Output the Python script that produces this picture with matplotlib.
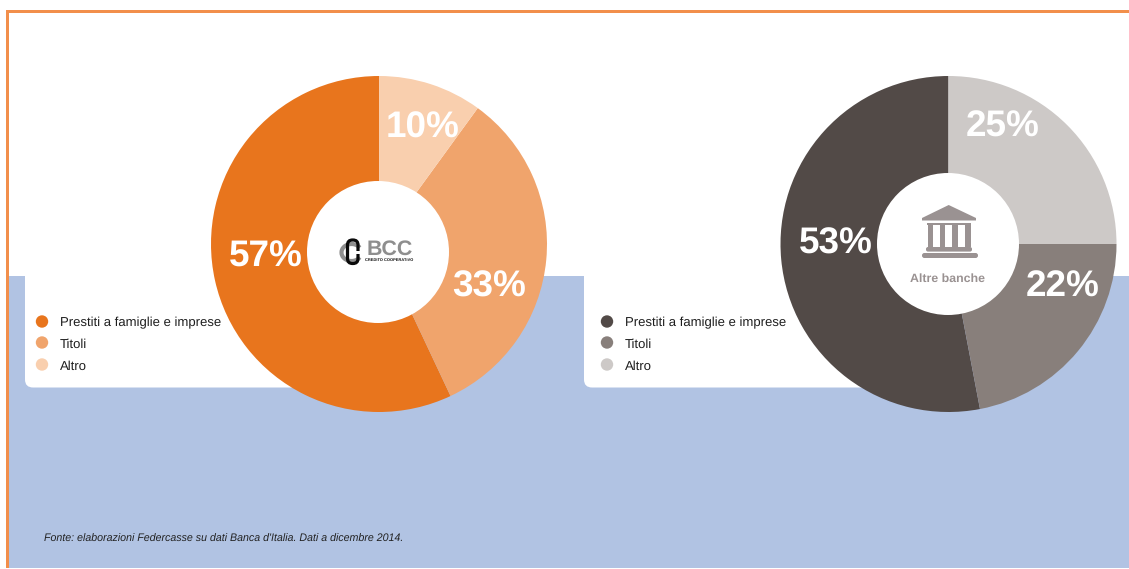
import matplotlib
matplotlib.use("Agg")
import matplotlib.pyplot as plt
from matplotlib.patches import Rectangle, FancyBboxPatch, Polygon, Circle, Arc

plt.rcParams['font.family'] = ['Liberation Sans', 'DejaVu Sans']
plt.rcParams['text.hinting'] = 'no_hinting'

# Composition of assets, percent
categories = ["Prestiti a famiglie e imprese", "Titoli", "Altro"]
bcc_values = [57, 33, 10]
other_values = [53, 22, 25]
bcc_colors = ["#E8751D", "#F0A46C", "#F9CFAE"]
other_colors = ["#524A47", "#887F7B", "#CDC9C7"]
source_note = "Fonte: elaborazioni Federcasse su dati Banca d'Italia. Dati a dicembre 2014."
other_center_label = "Altre banche"
logo_name = "BCC"
logo_tagline = "CREDITO COOPERATIVO"

W, H = 1129, 569
BLUE = "#B1C3E3"
ORANGE = "#F28F4B"
ICON = "#9A9292"

fig = plt.figure(figsize=(W / 100, H / 100), dpi=100, facecolor="white")

# Page layer in pixel coordinates, y pointing down
bg = fig.add_axes([0, 0, 1, 1], zorder=0)
bg.set_xlim(0, W)
bg.set_ylim(H, 0)
bg.axis("off")

bg.add_patch(Rectangle((8, 276), W - 8, 292, fc=BLUE, ec="none"))
for x0 in (25, 584):
    bg.add_patch(FancyBboxPatch((x0, 250), 340, 137.5,
                                boxstyle="round,pad=0,rounding_size=8",
                                fc="white", ec="none"))
bg.add_patch(Rectangle((6, 10), 3, 558, fc=ORANGE, ec="none", zorder=2))
bg.add_patch(Rectangle((6, 10), W - 6, 2.6, fc=ORANGE, ec="none", zorder=2))

# Legends
for x_dot, x_txt, colors in ((42, 60, bcc_colors), (607, 625, other_colors)):
    for y, name, col in zip((322, 343, 365), categories, colors):
        bg.add_patch(Circle((x_dot, y - 0.5), 6.2, fc=col, ec="none"))
        bg.text(x_txt, y + 1.4, name, fontsize=9.45, color="#1E1E1E", va="center", ha="left")

bg.text(44, 539, source_note, fontsize=7.7, style="italic", color="#222222",
        va="center", ha="left")


def solid_pie(cx, cy, radius, values, colors):
    """Pie centred on a pixel position, first slice running anticlockwise from 12 o'clock."""
    ax = fig.add_axes([(cx - radius) / W, 1 - (cy + radius) / H,
                       2 * radius / W, 2 * radius / H], zorder=1)
    ax.pie(values, colors=colors, startangle=90, counterclock=True, radius=1,
           wedgeprops=dict(linewidth=0))
    ax.set_xlim(-1, 1)
    ax.set_ylim(-1, 1)
    ax.set_aspect("equal")
    ax.patch.set_alpha(0)
    return ax


solid_pie(379, 244, 168, bcc_values, bcc_colors)
solid_pie(948.5, 244, 168, other_values, other_colors)

# Overlay for percentage labels and the ring centres
top = fig.add_axes([0, 0, 1, 1], zorder=3)
top.set_xlim(0, W)
top.set_ylim(H, 0)
top.axis("off")
top.patch.set_alpha(0)

top.add_patch(Circle((378, 252), 71, fc="white", ec="none"))
top.add_patch(Circle((948, 244), 71, fc="white", ec="none"))

bcc_label_xy = [(266, 257.5), (489, 287.5), (422.5, 128.5)]
other_label_xy = [(836, 244.5), (1062.5, 287.5), (1003, 127.5)]
for values, spots in ((bcc_values, bcc_label_xy), (other_values, other_label_xy)):
    for v, (x, y) in zip(values, spots):
        top.text(x, y, f"{v}%", fontsize=26.6, fontweight="bold", color="white",
                 ha="center", va="center")

# Bank icon
top.add_patch(Polygon([(948.7, 205), (976, 218), (976, 220.5), (922, 220.5), (922, 218)],
                      closed=True, fc=ICON, ec="none"))
top.add_patch(Rectangle((927, 222.5), 44, 2.3, fc=ICON, ec="none"))
for x0 in (927.5, 939.5, 952, 965):
    top.add_patch(Rectangle((x0, 224), 5.8, 23, fc=ICON, ec="none"))
top.add_patch(FancyBboxPatch((926, 247), 46, 4.6, boxstyle="round,pad=0,rounding_size=2",
                             fc=ICON, ec="none"))
top.add_patch(FancyBboxPatch((922, 253), 56, 5, boxstyle="round,pad=0,rounding_size=2.4",
                             fc=ICON, ec="none"))
top.text(948, 278.5, other_center_label, fontsize=8.95, fontweight="bold", color=ICON,
         ha="center", va="center")

# Cooperative credit logo
top.add_patch(Arc((351.5, 252.5), 20, 17, theta1=30, theta2=330, lw=3, color="#8E8E8E"))
top.add_patch(FancyBboxPatch((347.5, 240), 10.5, 23.5, boxstyle="round,pad=0,rounding_size=5",
                             fc="none", ec="#0A0A0A", lw=2.3))
top.add_patch(Rectangle((355, 250.5), 6, 3, fc="white", ec="none"))
top.text(389.5, 249.5, logo_name, fontsize=15.4, fontweight="bold", color="#8E8E8E",
         ha="center", va="center")
top.text(389.5, 259.8, logo_tagline, fontsize=2.85, fontweight="bold", color="#111111",
         ha="center", va="center")

fig.savefig("out.png", dpi=100, facecolor="white")
